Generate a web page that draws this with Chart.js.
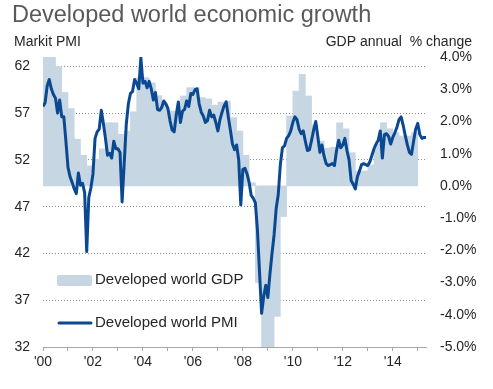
<!DOCTYPE html>
<html>
<head>
<meta charset="utf-8">
<script src="https://cdn.jsdelivr.net/npm/chart.js@4.4.1/dist/chart.umd.min.js"></script>
<style>
  html, body { margin: 0; padding: 0; background: #fff; }
</style>
</head>
<body>
<canvas id="chart" width="493" height="389"></canvas>
<script>
// Developed world: quarterly GDP (bars, right axis) + monthly PMI (line, left axis)

const startYear = 2000;

// GDP annual % change, Q1 2000 .. Q4 2014
const gdpQuarterly = [
  4.0, 4.05, 3.7, 2.9,
  2.4, 1.45, 0.95, 0.62,
  0.82, 1.15, 1.96, 1.96,
  1.6, 1.7, 2.3, 3.36,
  3.36, 3.2, 2.8, 2.55,
  2.32, 2.32, 2.79, 3.05,
  3.05, 2.74, 2.7, 2.5,
  2.6, 2.63, 2.12, 1.7,
  0.95, 0.1, -3.0, -5.5,
  -5.5, -4.05, -0.95, 2.17,
  2.94, 3.46, 2.79, 1.9,
  1.39, 1.17, 1.2, 1.96,
  1.77, 1.03, 0.46, 0.46,
  0.65, 1.29, 1.96, 1.77,
  1.65, 1.55, 1.55, 1.65
];

// Markit PMI, Jan 2000 .. May 2015
const pmiMonthly = [
  57.7, 58.1, 59.9, 60.6, 59.6, 59.0, 58.6, 57.0, 58.4, 56.6, 56.6, 54.0,
  51.2, 50.2, 49.6, 48.9, 48.4, 50.6, 49.3, 49.5, 48.5, 42.2, 48.0, 49.0,
  50.5, 54.3, 55.0, 55.3, 57.3, 55.9, 54.3, 52.5, 52.7, 52.2, 54.0, 53.2,
  53.2, 52.8, 47.5, 51.6, 55.8, 58.0, 59.1, 59.3, 60.6, 60.2, 59.6, 62.9,
  60.2, 60.4, 59.7, 60.4, 59.6, 58.4, 59.2, 57.4, 57.3, 57.6, 58.3, 58.0,
  57.5, 56.2, 55.2, 55.0, 56.8, 58.2, 56.0, 57.2, 57.4, 58.3, 57.7, 59.1,
  59.0, 59.5, 59.6, 58.0, 57.1, 56.7, 56.0, 56.2, 57.3, 56.6, 56.8, 56.0,
  55.1, 56.3, 57.1, 57.8, 58.2, 56.6, 55.2, 53.7, 53.1, 53.6, 52.0, 47.2,
  51.0, 51.1, 50.5, 49.6, 48.2, 47.9, 47.4, 44.5, 40.0, 35.6, 37.4, 38.6,
  37.3, 39.8, 42.0, 44.0, 46.8, 48.3, 51.5, 53.3, 53.5, 54.3, 54.6, 55.1,
  56.0, 56.6, 56.3, 55.3, 54.8, 55.1, 54.0, 53.0, 53.1, 54.1, 55.2, 56.1,
  54.5, 52.8, 53.6, 52.4, 51.6, 51.4, 51.5, 51.6, 51.4, 53.0, 54.1, 53.3,
  53.6, 54.3, 53.0, 52.0, 49.8, 49.4, 48.9, 50.2, 50.8, 51.5, 51.6, 51.5,
  51.4, 51.8, 52.5, 53.2, 53.7, 54.1, 55.1, 52.2, 54.7, 54.8, 54.5, 53.7,
  54.4, 54.9, 55.5, 56.3, 56.6, 55.7, 54.6, 53.6, 52.8, 52.6, 54.0, 55.3,
  55.9, 54.7, 54.3, 54.4, 54.4
];

const pmiTicks = [32, 37, 42, 47, 52, 57, 62];
const gdpTicks = [-5, -4, -3, -2, -1, 0, 1, 2, 3, 4];
const yearTicks = [2000, 2001, 2002, 2003, 2004, 2005, 2006, 2007,
                   2008, 2009, 2010, 2011, 2012, 2013, 2014, 2015];

const colors = {
  bar: '#c6d6e3',
  line: '#0b4892',
  grid: '#8c8c8c',
  axis: '#a6a6a6',
  text: '#262626',
  title: '#595959'
};

const FONT = "'Liberation Sans', Arial, sans-serif";
Chart.defaults.font.family = FONT;

const gdpPoints = gdpQuarterly.map((v, i) => ({ x: startYear + i / 4 + 0.125, y: v }));
const pmiPoints = pmiMonthly.map((v, i) => ({ x: startYear + i / 12, y: v }));

// title, axis titles and the in-plot legend
const labelsPlugin = {
  id: 'labels',
  afterDraw(chart) {
    const ctx = chart.ctx;
    ctx.save();
    ctx.textBaseline = 'alphabetic';

    ctx.fillStyle = colors.title;
    ctx.font = '23.5px ' + FONT;
    ctx.textAlign = 'left';
    ctx.fillText('Developed world economic growth', 12, 22);

    ctx.fillStyle = colors.text;
    ctx.font = '14px ' + FONT;
    ctx.fillText('Markit PMI', 14, 46);
    ctx.textAlign = 'right';
    ctx.fillText('GDP annual  % change', 472, 46);

    // legend
    ctx.fillStyle = colors.bar;
    ctx.beginPath();
    ctx.roundRect(57, 275, 35, 11, 2);
    ctx.fill();

    ctx.strokeStyle = colors.line;
    ctx.lineWidth = 3;
    ctx.lineCap = 'round';
    ctx.beginPath();
    ctx.moveTo(59, 323);
    ctx.lineTo(91, 323);
    ctx.stroke();

    ctx.fillStyle = colors.text;
    ctx.font = '15px ' + FONT;
    ctx.textAlign = 'left';
    ctx.textBaseline = 'middle';
    ctx.fillText('Developed world GDP', 95, 280);
    ctx.fillText('Developed world PMI', 95, 323);
    ctx.restore();
  }
};

new Chart(document.getElementById('chart'), {
  type: 'bar',
  data: {
    datasets: [
      {
        type: 'line',
        label: 'Developed world PMI',
        data: pmiPoints,
        yAxisID: 'y',
        borderColor: colors.line,
        borderWidth: 3,
        borderJoinStyle: 'round',
        pointRadius: 0,
        tension: 0,
        order: 1
      },
      {
        type: 'bar',
        label: 'Developed world GDP',
        data: gdpPoints,
        yAxisID: 'y1',
        backgroundColor: colors.bar,
        borderWidth: 0,
        barPercentage: 1,
        categoryPercentage: 1,
        order: 2
      }
    ]
  },
  options: {
    responsive: false,
    animation: false,
    layout: { padding: { top: 57, left: 0, right: 0, bottom: 0 } },
    plugins: {
      legend: { display: false },
      tooltip: { enabled: false }
    },
    scales: {
      x: {
        type: 'linear',
        min: 2000,
        max: 2015.33,
        offset: false,
        afterBuildTicks(scale) { scale.ticks = yearTicks.map(v => ({ value: v })); },
        afterFit(scale) { scale.height = 42; },
        grid: { offset: false, drawOnChartArea: false, drawTicks: true, tickLength: 4, color: colors.axis },
        border: { color: colors.axis, width: 1 },
        ticks: {
          autoSkip: false,
          maxRotation: 0,
          minRotation: 0,
          padding: 3,
          color: colors.text,
          font: { size: 14 },
          callback: v => (v % 2 === 0 ? "'" + String(v).slice(2) : '')
        }
      },
      y: {
        position: 'left',
        min: 32,
        max: 63,
        beginAtZero: false,
        afterBuildTicks(scale) { scale.ticks = pmiTicks.map(v => ({ value: v })); },
        afterFit(scale) { scale.width = 43; },
        grid: {
          drawTicks: false,
          color: c => (c.tick && c.tick.value === 32 ? 'rgba(0,0,0,0)' : colors.grid)
        },
        border: { display: false, dash: [1, 2] },
        ticks: { padding: 13, color: colors.text, font: { size: 14 } }
      },
      y1: {
        position: 'right',
        min: -5,
        max: 4,
        beginAtZero: false,
        afterBuildTicks(scale) { scale.ticks = gdpTicks.map(v => ({ value: v })); },
        afterFit(scale) { scale.width = 67; },
        grid: { display: false, drawTicks: false },
        border: { display: false },
        ticks: {
          padding: 14,
          color: colors.text,
          font: { size: 14 },
          callback: v => v.toFixed(1) + '%'
        }
      }
    }
  },
  plugins: [labelsPlugin]
});
</script>
</body>
</html>
